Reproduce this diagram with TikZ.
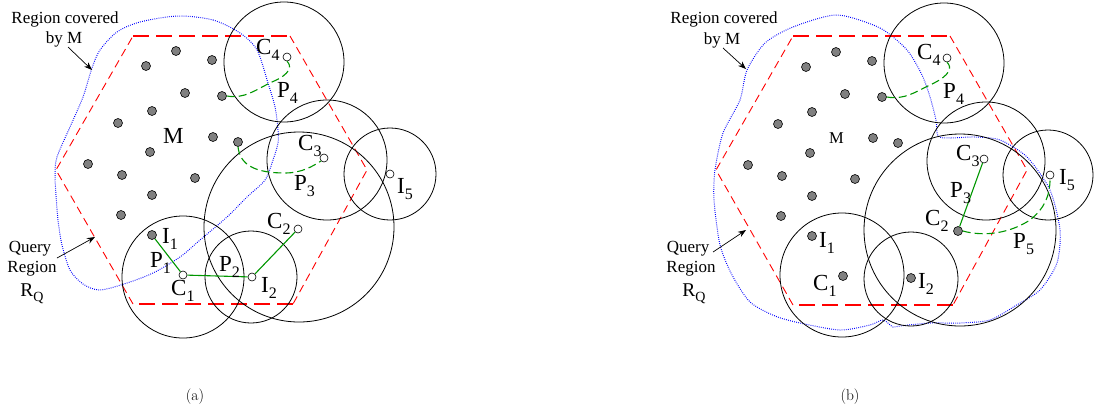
\documentclass[tikz,border=0pt]{standalone}
\usepackage{fontspec}
\newfontfamily\tms{Liberation Serif}
\usetikzlibrary{arrows.meta}
\definecolor{dotgray}{RGB}{128,128,128}
\definecolor{pgreen}{RGB}{0,150,0}
\newcommand{\lsub}[1]{\raisebox{-6pt}{\fontsize{16}{16}\selectfont #1}}
\newcommand{\qsub}[1]{\raisebox{-5pt}{\fontsize{14}{14}\selectfont #1}}
\tikzset{
  gdot/.style={circle, draw=black, line width=0.6pt, fill=dotgray, minimum size=9pt, inner sep=0pt},
  wdot/.style={circle, draw=black, line width=0.6pt, fill=white, minimum size=8pt, inner sep=0pt},
  ring/.style={draw=black, line width=0.8pt},
  hexs/.style={draw=red, line width=0.9pt, dash pattern=on 8pt off 5pt},
  hexh/.style={draw=red, line width=1.8pt, dash pattern=on 16pt off 7pt},
  cover/.style={draw=blue, line width=1pt, dash pattern=on 0.8pt off 1.3pt},
  pline/.style={draw=pgreen, line width=1.1pt},
  pdash/.style={draw=pgreen, line width=1.1pt, dash pattern=on 8pt off 4pt},
  lbl/.style={font=\tms\fontsize{23}{23}\selectfont, inner sep=0pt, anchor=base west},
  note/.style={font=\tms\fontsize{17}{20}\selectfont, inner sep=0pt, anchor=base},
  rq/.style={font=\tms\fontsize{19.5}{20}\selectfont, inner sep=0pt, anchor=base},
  ptr/.style={-{Stealth[length=8pt,width=6pt]}, line width=0.7pt},
  capt/.style={font=\fontsize{15.5}{18}\selectfont, inner sep=0pt}
}
\begin{document}
\begin{tikzpicture}[x=1pt,y=-1pt]
\useasboundingbox (0,0) rectangle (1094,416);

% ================= panel (a) =================
\draw[cover] plot[smooth cycle, tension=0.5] coordinates {
 (178,16) (213,20) (240,33) (257,50) (268,83) (275,107) (278,130) (278,143)
 (273,160) (265,180) (247,197) (227,217) (200,240) (180,257) (153,273) (127,283)
 (100,290) (83,284) (70,270) (62,245) (58,220) (56,195) (55,175) (57,157)
 (70,127) (83,97) (92,68) (100,50) (117,32) (140,22)};

\coordinate (ha1) at (133,36);  \coordinate (ha2) at (290,36);
\coordinate (ha3) at (367,170); \coordinate (ha4) at (293,304);
\coordinate (ha5) at (133,304); \coordinate (ha6) at (56,170);
\draw[hexh] (ha1) -- (ha2);
\draw[hexs] (ha2) -- (ha3) -- (ha4);
\draw[hexh] (ha4) -- (ha5);
\draw[hexs] (ha5) -- (ha6) -- (ha1);

\draw[ring] (284,62) circle[radius=60pt];
\draw[ring] (327,160) circle[radius=60pt];
\draw[ring] (390,174) circle[radius=46pt];
\draw[ring] (299,227) circle[radius=95pt];
\draw[ring] (183,277) circle[radius=61pt];
\draw[ring] (251,277) circle[radius=46pt];

\foreach \x/\y [count=\i] in {176/51,146/66,212/60,185/93,222/96,152/111,118/123,213/137,238/142,150/152,88/164,122/175,195/178,152/195,121/215}
  \node[gdot] (a\i) at (\x,\y) {};
\node[gdot] (aI1) at (152,235) {};
\node[wdot] (aC1) at (183,275) {};
\node[wdot] (aI2) at (252,277) {};
\node[wdot] (aC2) at (298,229) {};
\node[wdot] (aC3) at (324,158) {};
\node[wdot] (aC4) at (287,57) {};
\node[wdot] (aI5) at (390,174) {};

\draw[pline] (aI1) -- (aC1);
\draw[pline] (aC1) -- (aI2);
\draw[pline] (aI2) -- (aC2);
\draw[pdash] (a5.east) .. controls (245,99) and (255,90) .. (272,82) .. controls (291,74) and (292,66) .. (aC4.south);
\draw[pdash] (a9.south) .. controls (240,165) and (255,173) .. (285,173) .. controls (302,173) and (313,166) .. (aC3.south west);

\node[lbl] (laC4) at (256,54) {C\lsub{4}};
\node[lbl] (laP4) at (277,97) {P\lsub{4}};
\node[lbl] (laC3) at (298,150) {C\lsub{3}};
\node[lbl] (laP3) at (294,190) {P\lsub{3}};
\node[lbl] (laI5) at (397,193) {I\lsub{5}};
\node[lbl] (laC2) at (267,228) {C\lsub{2}};
\node[lbl] (laI1) at (162,243) {I\lsub{1}};
\node[lbl] (laP1) at (150,267) {P\lsub{1}};
\node[lbl] (laC1) at (171,295) {C\lsub{1}};
\node[lbl] (laP2) at (219,271) {P\lsub{2}};
\node[lbl] (laI2) at (261,292) {I\lsub{2}};
\node[lbl] (laM) at (163,143) {M};

\node[note] (arc1) at (65,23) {Region covered};
\node[note] (arc2) at (64,43) {by M};
\coordinate (arcA) at (68,47); \coordinate (arcB) at (92,70);
\draw[ptr] (arcA) -- (arcB);
\node[note] (aq1) at (30,252) {Query};
\node[note] (aq2) at (32,272) {Region};
\node[rq] (aq3) at (32,296) {R\qsub{Q}};
\coordinate (aqA) at (57,258); \coordinate (aqB) at (95,237);
\draw[ptr] (aqA) -- (aqB);

\node[capt] (capa) at (195,397) {(a)};

% ================= panel (b) =================
\draw[cover] plot[smooth cycle, tension=0.45] coordinates {
 (837,15) (880,28) (907,50) (922,75) (930,97) (936,120) (938,136) (950,138)
 (975,137) (1000,140) (1027,157) (1050,190) (1060,230) (1057,263) (1040,290)
 (1015,306) (990,320) (960,323) (930,323) (900,326) (893,327) (883,320)
 (870,325) (840,330) (800,323) (775,316) (750,302) (732,275) (720,245)
 (714,200) (715,170) (723,133) (740,100) (747,70) (765,43) (793,27)};

\coordinate (hb1) at (793,36);  \coordinate (hb2) at (950,36);
\coordinate (hb3) at (1027,170); \coordinate (hb4) at (953,305);
\coordinate (hb5) at (793,305); \coordinate (hb6) at (716,170);
\draw[hexh] (hb1) -- (hb2);
\draw[hexs] (hb2) -- (hb3) -- (hb4);
\draw[hexh] (hb4) -- (hb5);
\draw[hexs] (hb5) -- (hb6) -- (hb1);

\draw[ring] (944,63) circle[radius=60pt];
\draw[ring] (986,161) circle[radius=59pt];
\draw[ring] (1048,175) circle[radius=45pt];
\draw[ring] (960,230) circle[radius=96pt];
\draw[ring] (842,275) circle[radius=62pt];
\draw[ring] (911,279) circle[radius=47pt];

\foreach \x/\y [count=\i] in {176/51,146/66,212/60,185/93,222/96,152/111,118/123,213/137,238/142,150/152,88/164,122/175,195/178,152/195,121/215}
  \node[gdot] (b\i) at (\x+660,\y+1) {};
\node[gdot] (bI1) at (812,236) {};
\node[gdot] (bC1) at (843,276) {};
\node[gdot] (bI2) at (911,278) {};
\node[gdot] (bC2) at (958,231) {};
\node[wdot] (bC3) at (984,159) {};
\node[wdot] (bC4) at (947,58) {};
\node[wdot] (bI5) at (1050,175) {};

\draw[pline] (bC2) -- (bC3);
\draw[pdash] (b5.east) .. controls (905,100) and (915,92) .. (932,84) .. controls (951,75) and (952,67) .. (bC4.south);
\draw[pdash] (bC2.east) .. controls (985,237) and (1010,233) .. (1030,220) .. controls (1045,208) and (1050,195) .. (bI5.south);

\node[lbl] (lbC4) at (917,59) {C\lsub{4}};
\node[lbl] (lbP4) at (943,98) {P\lsub{4}};
\node[lbl] (lbC3) at (956,160) {C\lsub{3}};
\node[lbl] (lbP3) at (950,197) {P\lsub{3}};
\node[lbl] (lbI5) at (1059,184) {I\lsub{5}};
\node[lbl] (lbC2) at (925,225) {C\lsub{2}};
\node[lbl] (lbP5) at (1013,248) {P\lsub{5}};
\node[lbl] (lbC1) at (813,290) {C\lsub{1}};
\node[lbl] (lbI1) at (819,247) {I\lsub{1}};
\node[lbl] (lbI2) at (918,288) {I\lsub{2}};
\node[lbl, font=\tms\fontsize{16.5}{16.5}\selectfont] (lbM) at (829,143) {M};

\node[note] (brc1) at (724,23) {Region covered};
\node[note] (brc2) at (722,44) {by M};
\coordinate (brcA) at (723,48); \coordinate (brcB) at (746,69);
\draw[ptr] (brcA) -- (brcB);
\node[note] (bq1) at (688,252) {Query};
\node[note] (bq2) at (691,272) {Region};
\node[rq] (bq3) at (694,296) {R\qsub{Q}};
\coordinate (bqA) at (713,252); \coordinate (bqB) at (746,230);
\draw[ptr] (bqA) -- (bqB);

\node[capt] (capb) at (850,397) {(b)};
\end{tikzpicture}
\end{document}
